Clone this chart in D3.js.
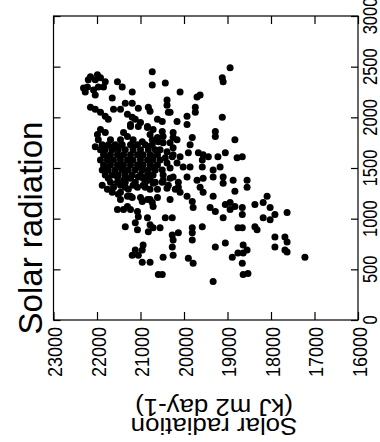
<!DOCTYPE html>
<html>
<head>
<meta charset="utf-8">
<script src="https://cdn.jsdelivr.net/npm/d3@7"></script>
<style>
  html, body { margin: 0; padding: 0; background: #fff; }
  svg { display: block; }
  text { font-family: "Liberation Sans", Arial, Helvetica, sans-serif; fill: #000; }
</style>
</head>
<body>
<svg id="chart" width="380" height="442"></svg>
<script>
// Solar radiation (kJ m2 day-1) on the horizontal axis, second variable on the vertical axis
const observations = [
  [22310,2290],[22220,2300],[22270,2250],[22150,2400],[22040,2370],[21920,2390],[21810,2350],
  [22080,2270],[21970,2300],[21850,2300],[21530,2350],[21420,2300],[21190,2250],[21650,2190],
  [20730,2320],[22040,2220],[20730,2450],[22200,2370],[21990,2420],
  [22150,2100],[22040,2080],[21920,2050],[21810,2010],[21620,2080],[21460,2080],[21350,2140],
  [21190,2140],[21050,2090],[20820,2100],[20780,2060],[21740,1980],[21300,2030],[21190,2000],
  [20610,1980],[21000,1950],[21230,1910],[20840,1910],[20710,1880],[21920,1880],[21990,1830],
  [21970,1780],[21810,1850],[21690,1780],[21620,1710],[21460,1780],[21300,1810],[21170,1780],
  [20960,1760],[20730,1780],[20590,1760],[22040,1710],
  [21390,1850],[21230,1930],[21120,1980],[21050,1910],[20840,1900],[20780,1830],[20610,1800],
  [20500,1860],[20360,2050],[20160,1960],[20320,1750],[20160,1780],[20550,1680],[20390,1660],
  [20250,1630],[20430,1600],[20160,1550],[20320,1500],[20480,1430],[20250,1410],[20130,1360],
  [20360,1330],[20500,1360],[20320,1190],[20090,1260],[21760,1290],[21460,1260],[21230,1220],
  [21000,1210],[20780,1190],[21300,1120],[20710,1120],[21620,1310],[21880,1330],
  [18940,2490],[19120,2390],[19100,2350],[20430,2340],[20090,2250],[19630,2220],[19700,2200],
  [20390,2170],[20390,2120],[19740,2100],[19740,2050],[20320,2050],[19930,2010],[19930,1930],
  [19120,2000],[19280,1860],[19280,1810],[20250,1850],[20250,1800],[19810,1800],[19860,1730],
  [18830,1780],[20500,1960],[20480,1810],[20480,1750],[20250,1700],[20270,1610],[20090,1610],
  [19900,1650],[19670,1650],[19560,1630],[19440,1610],[19580,1580],[19220,1610],[19050,1650],
  [18780,1600],[18660,1610],[20390,1550],[20020,1510],[19860,1510],[19330,1480],[19170,1510],
  [19580,1510],
  [21650,1260],[21510,1240],[21460,1190],[21300,1220],[21190,1210],[20960,1170],[20840,1190],
  [20730,1160],[20610,1210],[21530,1090],[21390,1090],[21230,1090],[21070,1070],[21050,1020],
  [20840,1010],[20780,940],[20710,910],[21350,920],[21120,960],[21070,890],[20820,870],
  [20940,740],[20960,690],[21120,690],[21190,640],[21050,640],[20960,570],[20780,570],
  [20590,450],[21740,1400],[21530,1410],[21390,1380],[21230,1400],[21050,1410],[20840,1380],
  [20710,1350],[20940,1330],[21170,1330],[21460,1330],[21280,1290],[20780,1290],[20610,1290],
  [20480,1380],[20320,1400],[20130,1310],[20200,1290],[20390,1300],[19930,1410],[19700,1380],
  [19560,1400],[19630,1310],[19330,1410],[19100,1350],[18870,1380],[19100,1410],[18830,1270],
  [19560,1260],[19330,1220],[19930,1220],[19810,1170],[19790,1110],[19400,1110],[19280,1070],
  [19050,1140],[18940,1160],[18830,1120],[18940,1090],[19100,1010],[19580,920],[18760,910],
  [20430,1010],[20270,1010],[20550,910],[20270,840],[20250,790],[20130,860],[19810,910],
  [19810,860],[19810,790],[20270,720],[20250,640],[20480,620],[19900,610],[19790,560],
  [19280,720],[19050,760],[18890,620],[18760,660],[19330,380],[20500,450],
  [18550,1380],[18550,1310],[18090,1220],[18180,1160],[18370,1140],[18020,1110],[17910,1040],
  [17630,1060],[18180,1010],[18020,990],[18370,920],[18320,890],[18660,1110],[18660,1040],
  [18660,910],[17910,820],[17680,820],[17630,770],[17910,720],[17680,690],[17630,670],
  [17220,620],[18640,740],[18550,690],[18640,660],[18660,560],[18640,450],[18530,460],
  [21880,1730],[21740,1730],[21580,1730],[21420,1730],[21230,1730],[21070,1730],[20890,1730],[20730,1730],
  [21810,1710],[21510,1710],[21170,1710],[20820,1710],
  [21920,1680],[21810,1680],[21650,1680],[21510,1680],[21350,1680],[21170,1680],[21000,1680],[20820,1680],[20660,1680],
  [21850,1630],[21690,1630],[21530,1630],[21390,1630],[21230,1630],[21070,1630],[20940,1630],[20780,1630],[20610,1630],
  [21760,1610],[21460,1610],[21000,1610],[20710,1610],
  [21920,1580],[21760,1580],[21620,1580],[21460,1580],[21300,1580],[21170,1580],[21000,1580],[20840,1580],[20710,1580],[20550,1580],
  [21850,1530],[21690,1530],[21530,1530],[21390,1530],[21230,1530],[21070,1530],[20940,1530],[20780,1530],[20610,1530],
  [21760,1510],[21460,1510],[21000,1510],[20710,1510],
  [21880,1480],[21740,1480],[21580,1480],[21420,1480],[21280,1480],[21120,1480],[20960,1480],[20820,1480],[20660,1480],[20500,1480],
  [21810,1430],[21650,1430],[21510,1430],[21350,1430],[21190,1430],[21000,1430],[20840,1430],[20710,1430],
  [21350,1400],[20940,1400],[20780,1400],
  [21690,1360],[21530,1360],[21350,1360],[21120,1360],[20890,1360],[20660,1360],
  [21350,1310],[21070,1310],[20890,1310]
];
const xTicks = [23000, 22000, 21000, 20000, 19000, 18000, 17000, 16000];
const yTicks = [0, 500, 1000, 1500, 2000, 2500, 3000];
const titleText = "Solar radiation";
const xLabelLines = ["Solar radiation", "(kJ m2 day-1)"];

const svg = d3.select("#chart");
svg.append("rect").attr("width", 380).attr("height", 442).attr("fill", "#fff");

const x = d3.scaleLinear().domain([23000, 16000]).range([53.5, 358]);
const y = d3.scaleLinear().domain([0, 3000]).range([320, 16]);

// points
svg.append("g").selectAll("circle").data(observations).join("circle")
  .attr("cx", d => x(d[0])).attr("cy", d => y(d[1])).attr("r", 3.5).attr("fill", "#000");

// frame
svg.append("rect").attr("x", x(23000)).attr("y", y(3000))
  .attr("width", x(16000) - x(23000)).attr("height", y(0) - y(3000))
  .attr("fill", "none").attr("stroke", "#000").attr("stroke-width", 1.2);

function styleAxis(g) {
  g.select(".domain").remove();
  g.selectAll(".tick line").attr("stroke", "#000").attr("stroke-width", 1.2);
  g.selectAll(".tick text").remove();
}
svg.append("g").attr("transform", `translate(0,${y(0)})`)
  .call(d3.axisBottom(x).tickValues(xTicks).tickSize(-8)).call(styleAxis);
svg.append("g").attr("transform", `translate(0,${y(3000)})`)
  .call(d3.axisTop(x).tickValues(xTicks).tickSize(-8)).call(styleAxis);
svg.append("g").attr("transform", `translate(${x(23000)},0)`)
  .call(d3.axisLeft(y).tickValues(yTicks).tickSize(-7)).call(styleAxis);
svg.append("g").attr("transform", `translate(${x(16000)},0)`)
  .call(d3.axisRight(y).tickValues(yTicks).tickSize(-7)).call(styleAxis);

// bottom tick labels (rotated)
svg.append("g").selectAll("text").data(xTicks).join("text")
  .attr("transform", d => `translate(${x(d) + 8.5},327) scale(1.15,1) rotate(-90)`)
  .attr("text-anchor", "end").attr("font-size", 18).text(d => d);

// right tick labels (rotated)
svg.append("g").selectAll("text").data(yTicks).join("text")
  .attr("transform", d => `translate(377,${y(d)}) scale(1.2,1) rotate(-90)`)
  .attr("text-anchor", "middle").attr("font-size", 16.5).text(d => d);

// left title
svg.append("text").attr("transform", "translate(42,228) rotate(-90)")
  .attr("text-anchor", "middle").attr("font-size", 33).text(titleText);

// bottom axis title, upside down
const lab = svg.append("g").attr("transform", "translate(214,418) rotate(180) scale(1.1,1)");
lab.selectAll("text").data(xLabelLines).join("text")
  .attr("x", 0).attr("y", (d, i) => i * 19)
  .attr("text-anchor", "middle").attr("font-size", 23.5).text(d => d);
</script>
</body>
</html>
